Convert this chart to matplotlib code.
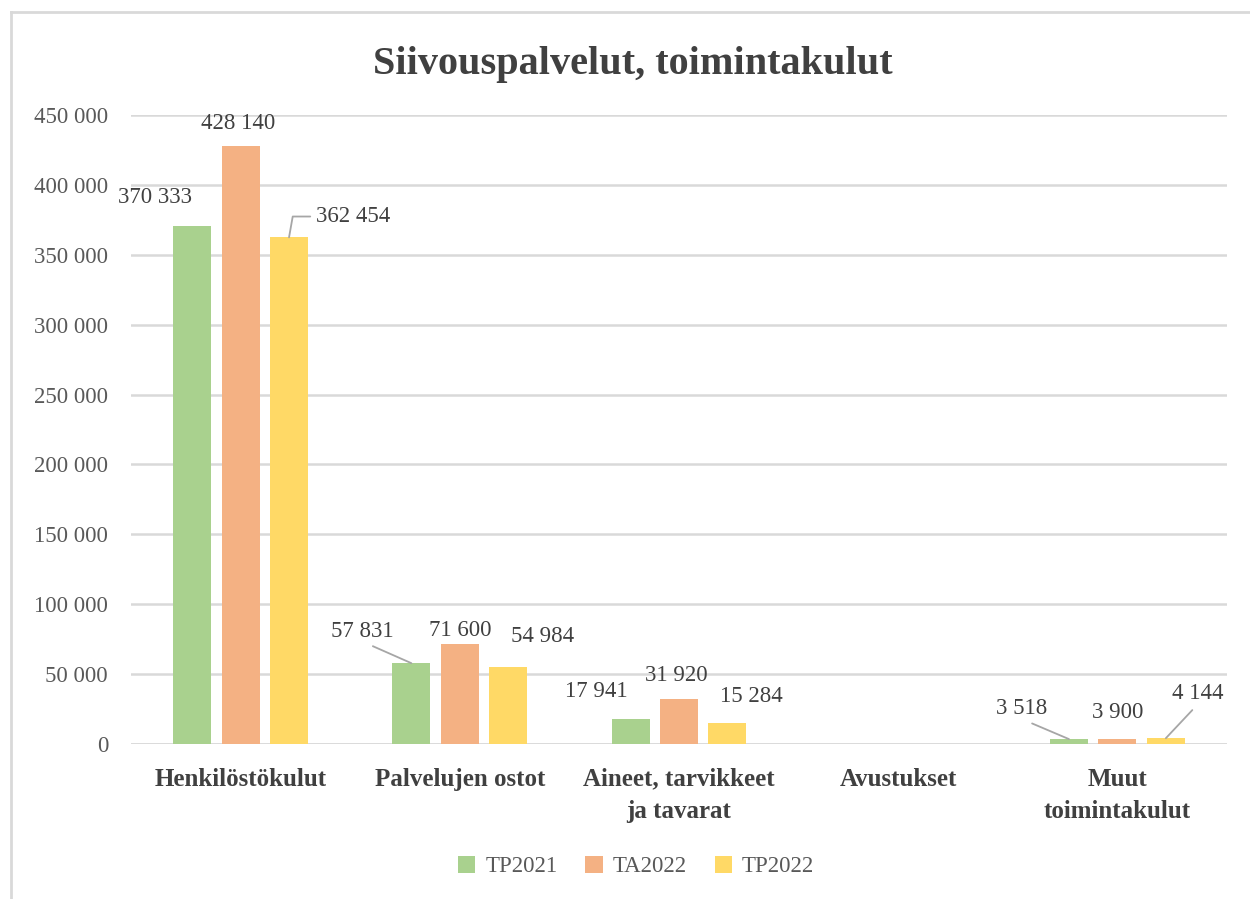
import matplotlib
matplotlib.use("Agg")
import matplotlib.pyplot as plt
from matplotlib.lines import Line2D
from matplotlib.patches import Patch
import numpy as np

categories = ["Henkilöstökulut", "Palvelujen ostot", "Aineet, tarvikkeet\nja tavarat",
              "Avustukset", "Muut\ntoimintakulut"]
series_names = ["TP2021", "TA2022", "TP2022"]
tp2021 = [370333, 57831, 17941, 0, 3518]
ta2022 = [428140, 71600, 31920, 0, 3900]
tp2022 = [362454, 54984, 15284, 0, 4144]
yticks = [0, 50000, 100000, 150000, 200000, 250000, 300000, 350000, 400000, 450000]

colors = ["#a9d18e", "#f4b183", "#ffd966"]
text_col = "#404040"
tick_col = "#595959"
grid_col = "#d9d9d9"

# label offsets in points (dx, dy) and whether a leader line is drawn
label_offsets = [
    [(-27, 21, None), (-2, 16, None), (46, 15, "elbow")],
    [(-35, 23, "line"), (0, 10, None), (25, 22, None)],
    [(-25, 20, None), (-2, 17, None), (17, 19, None)],
    [None, None, None],
    [(-34, 22, "line"), (0, 19, None), (23, 32, "line")],
]


def fmt(v):
    return f"{v:,}".replace(",", " ")


plt.rcParams["font.family"] = ["Liberation Serif", "DejaVu Serif"]

fig = plt.figure(figsize=(12.5, 8.99), dpi=100)
ax = fig.add_axes([0.1048, 0.1724, 0.8768, 0.6997])

x = np.arange(len(categories))
width = 0.173
step = 0.221
all_series = [tp2021, ta2022, tp2022]

for s, (vals, col, name) in enumerate(zip(all_series, colors, series_names)):
    pos = x + (s - 1) * step
    ax.bar(pos, vals, width=width, color=col, label=name, zorder=3)
    for i, v in enumerate(vals):
        off = label_offsets[i][s]
        if off is None or v == 0:
            continue
        dx, dy, kind = off
        kw = {}
        if kind == "elbow":
            kw["arrowprops"] = dict(arrowstyle="-", color="#a6a6a6", lw=1.3,
                                    shrinkA=2, shrinkB=0, relpos=(0, 0.5),
                                    connectionstyle="angle,angleA=0,angleB=80,rad=0")
        elif kind == "line":
            kw["arrowprops"] = dict(arrowstyle="-", color="#a6a6a6", lw=1.3,
                                    shrinkA=3, shrinkB=0, relpos=(0.5, 0))
        ax.annotate(fmt(v), xy=(pos[i], v), xytext=(dx, dy), textcoords="offset points",
                    ha="center", va="center", fontsize=16.5, color=text_col, **kw)

ax.set_xlim(-0.5, len(categories) - 0.5)
ax.set_ylim(0, 450000)
ax.set_yticks(yticks)
ax.set_yticklabels([fmt(t) for t in yticks], fontsize=16.5, color=tick_col)
ax.set_xticks(x)
ax.set_xticklabels(categories, fontsize=18, fontweight="bold", color=text_col,
                   linespacing=1.5)
ax.tick_params(axis="both", length=0)
ax.tick_params(axis="y", pad=16.5)
ax.tick_params(axis="x", pad=17)
ax.yaxis.grid(True, color=grid_col, lw=1.8, zorder=0)
for sp in ax.spines.values():
    sp.set_visible(False)
ax.axhline(0, color=grid_col, lw=1.8, zorder=2)

fig.text(0.506, 0.928, "Siivouspalvelut, toimintakulut", ha="center", va="center",
         fontsize=29, fontweight="bold", color=text_col)

handles = [Patch(facecolor=c, edgecolor="none") for c in colors]
fig.legend(handles, series_names, loc="center", bbox_to_anchor=(0.509, 0.036),
           ncol=3, frameon=False, fontsize=16.5, handlelength=0.75, handleheight=0.75,
           handletextpad=0.45, columnspacing=1.2, labelcolor=tick_col)

# outer chart frame (top and left edges)
fig.add_artist(Line2D([0.009, 1.0], [0.9866, 0.9866], color=grid_col, lw=2.0,
                      transform=fig.transFigure))
fig.add_artist(Line2D([0.009, 0.009], [0.0, 0.9866], color=grid_col, lw=2.0,
                      transform=fig.transFigure))

fig.savefig("out.png", dpi=100, facecolor="white")
